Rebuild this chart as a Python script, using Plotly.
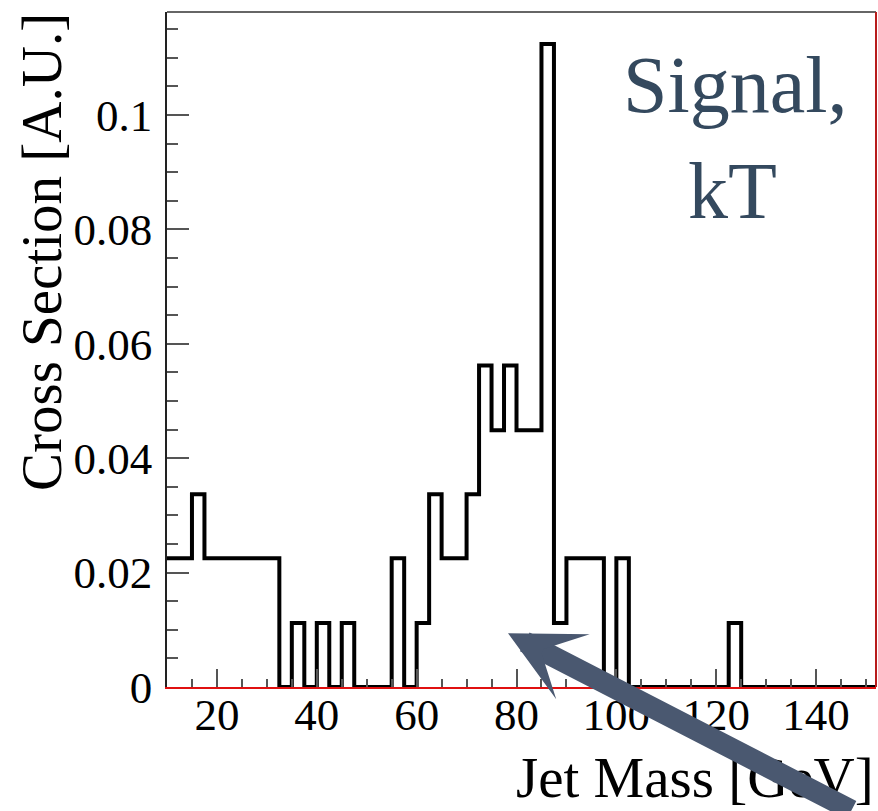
import numpy as np
import plotly.graph_objects as go

# ---- data ----
bin_width = 2.5
x_start = 10.0
# cross section per 2.5 GeV bin, bins starting at 10 GeV
cross_section = [
    0.0225, 0.0225, 0.0337, 0.0225, 0.0225, 0.0225, 0.0225, 0.0225, 0.0225,  # 10 - 32.5
    0.0, 0.0112, 0.0, 0.0112, 0.0, 0.0112, 0.0, 0.0, 0.0,                      # 32.5 - 55
    0.0225, 0.0, 0.0112, 0.0337, 0.0225, 0.0225,                               # 55 - 70
    0.0337, 0.0562, 0.0449, 0.0562, 0.0449, 0.0449,                            # 70 - 85
    0.1124, 0.0112, 0.0225, 0.0225, 0.0225, 0.0, 0.0225,                       # 85 - 102.5
    0.0, 0.0, 0.0, 0.0, 0.0, 0.0, 0.0, 0.0,                                    # 102.5 - 122.5
    0.0112,                                                                    # 122.5 - 125
    0.0, 0.0, 0.0, 0.0, 0.0, 0.0, 0.0, 0.0, 0.0, 0.0, 0.0,                     # 125 - 152.5
]
x_range = [10, 152]
y_range = [0, 0.118]
x_title = "Jet Mass [GeV]"
y_title = "Cross Section [A.U.]"
label_lines = ["Signal,", "kT"]
arrow_tip = (78.3, 0.0094)

# ---- build step histogram ----
n = len(cross_section)
edges = x_start + bin_width * np.arange(n + 1)
xs = list(edges)
ys = list(cross_section) + [cross_section[-1]]

W, H = 878, 811
L, R, T, B = 167, 2, 12, 124

serif = "Liberation Serif, Times New Roman, serif"

fig = go.Figure()
fig.add_trace(go.Scatter(
    x=xs, y=ys, mode="lines", line=dict(shape="hv", color="black", width=4),
    hoverinfo="skip", showlegend=False, cliponaxis=False,
))

fig.update_layout(
    width=W, height=H,
    margin=dict(l=L, r=R, t=T, b=B, pad=0),
    paper_bgcolor="white", plot_bgcolor="white",
    showlegend=False,
    font=dict(family=serif, color="black"),
)

fig.update_xaxes(
    range=x_range, showgrid=False, zeroline=False,
    showline=True, linecolor="#e01010", linewidth=1.5,
    ticks="inside", tickmode="linear", tick0=0, dtick=20, ticklen=18, tickwidth=1.5, tickcolor="#555555",
    minor=dict(ticks="inside", dtick=5, tick0=0, ticklen=8, tickwidth=1.5, tickcolor="#555555"),
    tickfont=dict(family=serif, size=45, color="black"),
    ticklabelstandoff=-13,
)
fig.update_yaxes(
    range=y_range, showgrid=False, zeroline=False,
    showline=True, linecolor="#222222", linewidth=1.5,
    ticks="inside", tickmode="linear", tick0=0, dtick=0.02, ticklen=22, tickwidth=1.5, tickcolor="#555555",
    minor=dict(ticks="inside", dtick=0.005, tick0=0, ticklen=11, tickwidth=1.5, tickcolor="#555555"),
    tickfont=dict(family=serif, size=45, color="black"),
    ticklabelstandoff=4,
)

# frame: top dark, right red
fig.add_shape(type="line", xref="paper", yref="paper", x0=0, x1=1, y0=1, y1=1,
              line=dict(color="#333333", width=1.5))
fig.add_shape(type="line", xref="paper", yref="paper", x0=1, x1=1, y0=0, y1=1,
              line=dict(color="#b81c1c", width=2))

pw = W - L - R
ph = H - T - B

def px2paper(px, py):
    return (px - L) / pw, (H - B - py) / ph

# axis titles
xt = px2paper(876, 778)
fig.add_annotation(text=x_title, xref="paper", yref="paper", x=xt[0], y=xt[1],
                   xanchor="right", yanchor="middle", showarrow=False,
                   font=dict(family=serif, size=57, color="black"))
yt = px2paper(42, 252)
fig.add_annotation(text=y_title, xref="paper", yref="paper", x=yt[0], y=yt[1],
                   xanchor="center", yanchor="middle", textangle=-90, showarrow=False,
                   font=dict(family=serif, size=57, color="black"))

# label text
for line, (cx, cy) in zip(label_lines, [(735, 85), (732, 191)]):
    p = px2paper(cx, cy)
    fig.add_annotation(text=line, xref="paper", yref="paper", x=p[0], y=p[1],
                       xanchor="center", yanchor="middle", showarrow=False,
                       font=dict(family=serif, size=80, color="#34495e"))

# arrow
fig.add_annotation(text="", x=arrow_tip[0], y=arrow_tip[1], xref="x", yref="y",
                   showarrow=True, ax=345, ay=180, arrowhead=3, arrowsize=0.58,
                   arrowwidth=21, arrowcolor="#4a5870", standoff=0)

fig.write_html("out.html")
